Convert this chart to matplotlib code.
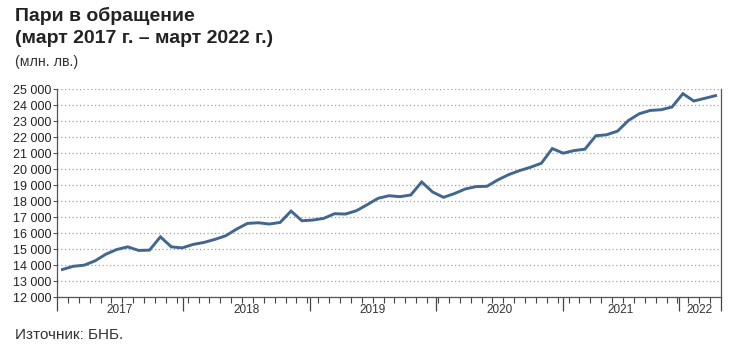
import numpy as np
import matplotlib.pyplot as plt
from matplotlib.ticker import FuncFormatter, FixedLocator

# monthly money in circulation, March 2017 - March 2022 (mln. BGN)
values = [13720, 13920, 13990, 14260, 14680, 14970, 15135, 14910, 14930, 15760,
          15135, 15070, 15285, 15410, 15600, 15825, 16245, 16600, 16640, 16560,
          16660, 17370, 16765, 16810, 16915, 17205, 17185, 17390, 17770, 18170,
          18330, 18270, 18375, 19190, 18565, 18230, 18460, 18750, 18900, 18920,
          19320, 19650, 19900, 20110, 20360, 21280, 20990, 21150, 21240, 22075,
          22140, 22370, 23035, 23455, 23660, 23705, 23875, 24710, 24250, 24415,
          24585]
years = ['2017', '2018', '2019', '2020', '2021', '2022']
year_edges = [-0.5, 11.08, 22.74, 34.32, 45.99, 56.64, 60.5]

plt.rcParams['font.family'] = ['Liberation Sans', 'DejaVu Sans']

fig = plt.figure(figsize=(7.34, 3.5), dpi=100)
ax = fig.add_axes([57 / 734, 1 - 297 / 350, 664 / 734, 208 / 350])

x = np.arange(len(values))
ax.plot(x, values, color='#41668f', linewidth=2.1, solid_joinstyle='miter')

ax.set_xlim(-0.5, len(values) - 0.5)
ax.set_ylim(12000, 25000)
ax.set_yticks(range(12000, 25001, 1000))
ax.yaxis.set_major_formatter(FuncFormatter(lambda v, p: f'{int(v):,}'.replace(',', ' ')))
ax.tick_params(axis='y', labelsize=9, length=3, width=0.8, color='#555555', pad=1,
               labelcolor='#222222')

ax.grid(axis='y', linestyle=(0, (1, 2)), color='#a0a0a0', linewidth=0.9)
ax.set_axisbelow(True)

# year separators and month ticks
ax.xaxis.set_major_locator(FixedLocator(year_edges))
ax.xaxis.set_minor_locator(FixedLocator(np.arange(-0.5, len(values), 1)))
ax.set_xticklabels([])
ax.tick_params(axis='x', which='major', length=10, width=0.9, color='#444444')
ax.tick_params(axis='x', which='minor', length=4, width=0.8, color='#444444')
for i, yr in enumerate(years):
    mid = (year_edges[i] + year_edges[i + 1]) / 2
    ax.text(mid, -0.035, yr, transform=ax.get_xaxis_transform(), ha='center', va='top',
            fontsize=8.5, color='#333333')

ax.spines['top'].set_visible(False)
for s in ['left', 'right', 'bottom']:
    ax.spines[s].set_color('#555555')
    ax.spines[s].set_linewidth(0.9)

fig.text(15 / 734, 1 - 21 / 350, 'Пари в обращение', fontsize=14, fontweight='bold',
         color='#222222', va='baseline')
fig.text(15 / 734, 1 - 43 / 350, '(март 2017 г. – март 2022 г.)', fontsize=14,
         fontweight='bold', color='#222222', va='baseline')
fig.text(15 / 734, 1 - 66 / 350, '(млн. лв.)', fontsize=10.3, color='#333333', va='baseline')
fig.text(15 / 734, 1 - 339 / 350, 'Източник: БНБ.', fontsize=11, color='#333333',
         va='baseline')

plt.savefig('out.png', dpi=100)
